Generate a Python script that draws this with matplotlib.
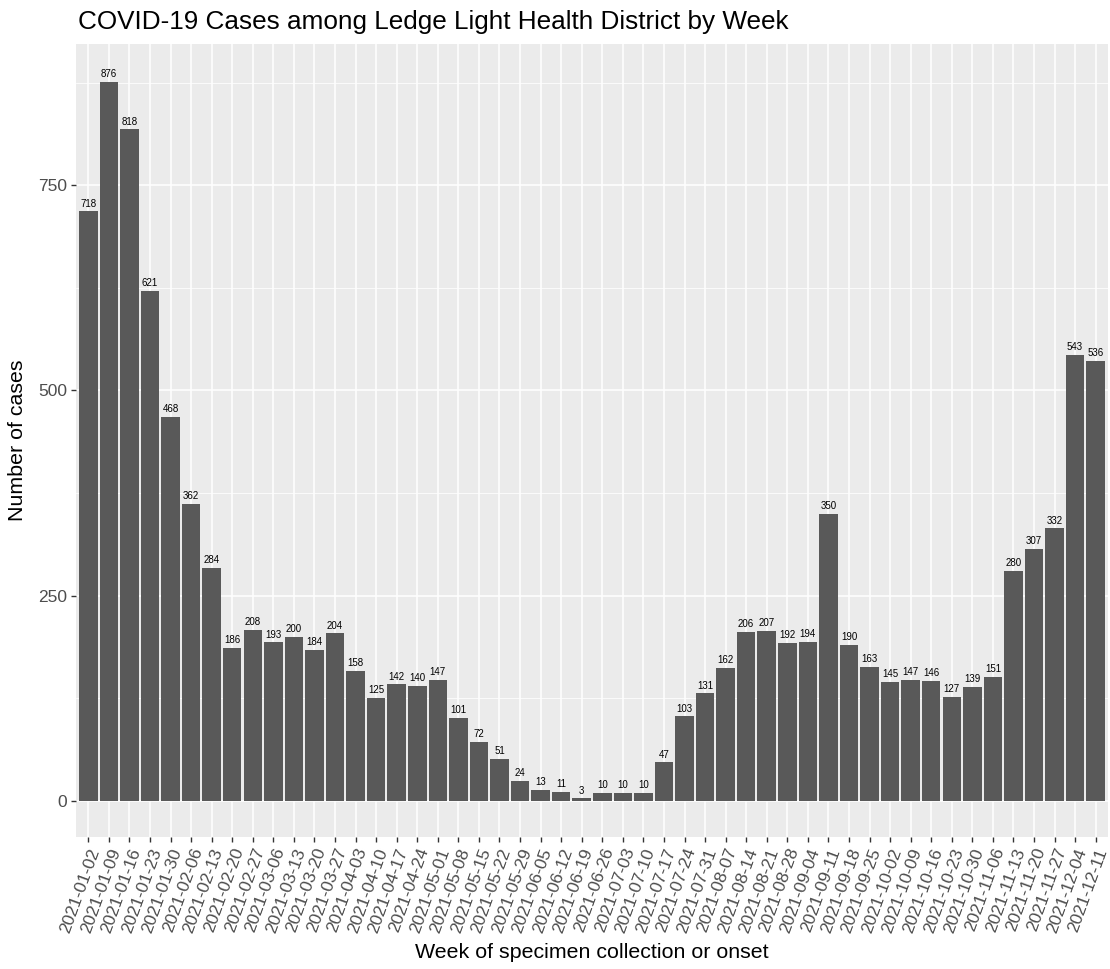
import matplotlib
matplotlib.use("Agg")
import matplotlib.pyplot as plt
from matplotlib.ticker import FixedLocator

plt.rcParams['font.family'] = ['Liberation Sans', 'DejaVu Sans']

weeks = ["2021-01-02","2021-01-09","2021-01-16","2021-01-23","2021-01-30",
         "2021-02-06","2021-02-13","2021-02-20","2021-02-27",
         "2021-03-06","2021-03-13","2021-03-20","2021-03-27",
         "2021-04-03","2021-04-10","2021-04-17","2021-04-24",
         "2021-05-01","2021-05-08","2021-05-15","2021-05-22","2021-05-29",
         "2021-06-05","2021-06-12","2021-06-19","2021-06-26",
         "2021-07-03","2021-07-10","2021-07-17","2021-07-24","2021-07-31",
         "2021-08-07","2021-08-14","2021-08-21","2021-08-28",
         "2021-09-04","2021-09-11","2021-09-18","2021-09-25",
         "2021-10-02","2021-10-09","2021-10-16","2021-10-23","2021-10-30",
         "2021-11-06","2021-11-13","2021-11-20","2021-11-27",
         "2021-12-04","2021-12-11"]
cases = [718, 876, 818, 621, 468, 362, 284, 186, 208, 193, 200, 184, 204,
         158, 125, 142, 140, 147, 101, 72, 51, 24, 13, 11, 3, 10, 10, 10,
         47, 103, 131, 162, 206, 207, 192, 194, 350, 190, 163, 145, 147,
         146, 127, 139, 151, 280, 307, 332, 543, 536]

fig = plt.figure(figsize=(11.1, 9.69), dpi=100)
ax = fig.add_axes([76/1110, 1-837/969, (1108-76)/1110, (837-44)/969])
ax.set_facecolor('#EBEBEB')
for s in ax.spines.values():
    s.set_visible(False)

x = list(range(len(weeks)))
ax.bar(x, cases, width=0.9, color='#595959', edgecolor='none', zorder=3)
for xi, v in zip(x, cases):
    ax.annotate(str(v), (xi, v), xytext=(0, 2), textcoords='offset points',
                ha='center', va='bottom', fontsize=7, color='black', zorder=4)

ax.set_xlim(-0.6, len(weeks) - 0.4)
ax.set_ylim(-44, 922)
ax.yaxis.set_major_locator(FixedLocator([0, 250, 500, 750]))
ax.yaxis.set_minor_locator(FixedLocator([125, 375, 625, 875]))
ax.set_xticks(x)
ax.set_xticklabels(weeks, rotation=70, ha='right', rotation_mode='anchor')
ax.grid(which='major', color='white', linewidth=1.1, zorder=0)
ax.grid(which='minor', axis='y', color='white', linewidth=0.55, zorder=0)
ax.set_axisbelow(True)
ax.tick_params(axis='both', which='major', length=3.5, width=1, color='#333333',
               labelcolor='#4D4D4D', labelsize=12.5, pad=3)
ax.tick_params(axis='y', which='minor', length=0)
ax.set_xlabel('Week of specimen collection or onset', fontsize=15.4, color='black', labelpad=6)
ax.set_ylabel('Number of cases', fontsize=15.4, color='black', labelpad=8)
fig.text(78/1110, 1-22/969, 'COVID-19 Cases among Ledge Light Health District by Week',
         fontsize=18.8, va='center', ha='left', color='black')

fig.savefig('out.png', dpi=100, facecolor='white')
